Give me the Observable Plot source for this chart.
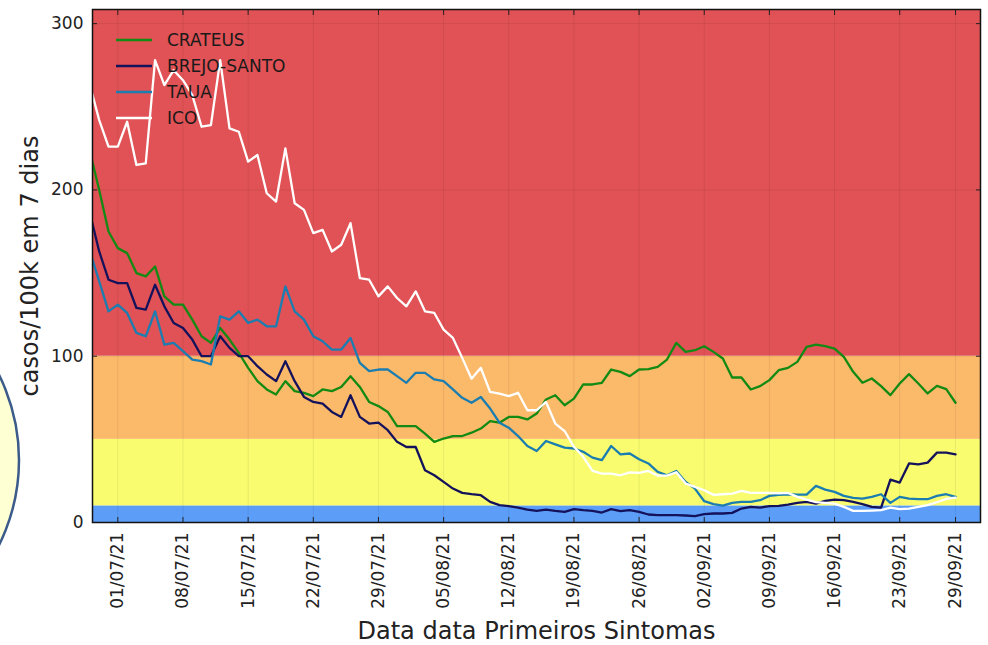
<!DOCTYPE html>
<html><head><meta charset="utf-8">
<script src="https://cdn.jsdelivr.net/npm/d3@7"></script>
<script src="https://cdn.jsdelivr.net/npm/@observablehq/plot@0.6"></script>
<style>
body{margin:0;background:#fff;}
#wrap{position:relative;width:988px;height:645px;overflow:hidden;font-family:"DejaVu Sans",sans-serif;}
#deco{position:absolute;left:0;top:0;pointer-events:none;}
</style></head><body>
<div id="wrap"><div id="chart"></div><svg id="deco" width="988" height="645"><circle cx="-172" cy="460" r="191" fill="#ffffd4" stroke="#3b5b8a" stroke-width="2.5"/></svg></div>
<script>
const startDay = "2021-06-28";
const seriesNames = ["CRATEUS", "BREJO-SANTO", "TAUA", "ICO"];
const seriesColors = ["#138a13", "#15125c", "#1b7db0", "#ffffff"];

const crateus = [223,200,175,165,162,150,148,154,136,131,131,122,112,108,117,110,102,93,85,80,77,85,79,78,76,80,79,81.5,88,81.5,72.5,70,66.5,58,58,58,53.5,48.5,50.5,52,52,54,56.5,61,60,63.5,63.5,62,65.5,74,76.5,70.5,74.5,83,83,84,92,90.6,88,92,92.2,93.6,98,108,102.6,103.6,106,102.6,98.6,87.2,87.2,80,82,85.6,91.6,93,96.6,105.6,107,106,104.6,99.6,90.6,84,86.6,82,76.6,83.6,89.2,83.6,77.6,82.2,80.2,72];
const brejoSanto = [186,163,146,144,144,129,128,143,130,120,117,110,100,100,112,105,100,100,94,89,85,97,85,75.5,72.5,71.5,66.5,63.5,76.5,63.5,59.5,60,55.5,48.5,45.4,45.4,31.4,28.4,24.4,20.4,17.8,17,16.4,12.4,10.4,9.8,9,7.8,7,7.8,7,6.4,8,7.4,7,6,8,6.8,7.4,6.4,4.8,4.4,4.4,4.4,4.2,3.8,5,5.4,5.4,5.8,8.4,9.4,9,9.8,10,10.8,11.8,12.4,11.4,13,13.8,13.4,12.4,11,9.4,9,25.8,24,35.5,35,36,42,42,41];
const taua = [163,145,127,131,126,114,112,127,107,108,103,98,97,95,124,122,127,120,122,118,118,142,127,122,112,109,104,104,111,96,91,92,92,88,84,90,90,86,85,80,75,72,75.5,68.5,60,57,52,46,43,49,47,45,44.5,42.5,39,37.5,46,41,41.5,38,35.5,30.4,28.4,31,24.4,20.4,12.8,11,10.2,11.8,12.4,12.4,13.4,16,16.6,17,16.8,16.8,22,19.8,18.4,16,14.8,14.4,15.4,17,11.8,15.4,14.4,14,14,16,17,15.4];
const ico = [263,242,226,226,241,215,216,278,263,272,266,257,238,239,278,237,235,217,221,198,193,225,192,188,174,176,163,167,180,147,146,136,142,135,130,139,127,126,116,111,99,86.5,93,78.5,77.5,76,78,67.5,67.5,72.5,59.5,55,45.5,39.5,31,29.4,29.4,28.4,30.2,29.8,31,28.2,28.2,30.2,23.4,21.4,19.4,16.6,17,17.4,19,17.8,17.8,17.8,17.6,17.8,15.4,13.8,12.2,11.8,11.4,9.4,7,7,7.2,7.4,9,8,8.4,9.4,10.4,12.2,14.2,15];

const tickLabels = ["2021-07-01","2021-07-08","2021-07-15","2021-07-22","2021-07-29","2021-08-05","2021-08-12","2021-08-19","2021-08-26","2021-09-02","2021-09-09","2021-09-16","2021-09-23","2021-09-29"];
const yTicks = [0, 100, 200, 300];
const bandLimits = [0, 10, 50, 100, 308.5];
const bandColors = ["#5c9df8", "#f8fc6e", "#fbb96a", "#e05255"];

const seriesValues = [crateus, brejoSanto, taua, ico];
const start = new Date(startDay);
const dates = crateus.map((_, i) => d3.utcDay.offset(start, i));
const rows = [];
seriesNames.forEach((name, k) => seriesValues[k].forEach((v, i) => rows.push({date: dates[i], value: v, name})));
const bands = bandColors.map((c, i) => ({lo: bandLimits[i], hi: bandLimits[i + 1], color: c}));
const tickDates = tickLabels.map(s => new Date(s));
const fmt = d3.utcFormat("%d/%m/%y");

const chart = Plot.plot({
  width: 988, height: 645,
  marginLeft: 92, marginRight: 8, marginTop: 9, marginBottom: 123,
  style: {fontFamily: "DejaVu Sans", fontSize: "17px", background: "transparent", color: "#222"},
  x: {type: "utc", domain: [new Date(Date.UTC(2021, 5, 28, 6, 42)), new Date(Date.UTC(2021, 9, 1, 16, 19))]},
  y: {domain: [0, bandLimits[bandLimits.length - 1]]},
  color: {domain: seriesNames, range: seriesColors},
  marks: [
    ...bands.map(b => Plot.rect([b], {y1: "lo", y2: "hi", fill: b.color})),
    Plot.gridX(tickDates, {stroke: "#000", strokeOpacity: 0.07}),
    Plot.gridY(yTicks, {stroke: "#000", strokeOpacity: 0.07}),
    Plot.line(rows, {x: "date", y: "value", z: "name", stroke: "name", strokeWidth: 2.3, clip: true}),
    Plot.axisX(tickDates, {tickFormat: fmt, tickRotate: -90, tickSize: 0, tickPadding: 10, label: null, fontSize: 17}),
    Plot.axisX(tickDates, {tickSize: -5, tickFormat: () => "", label: null}),
    Plot.axisX(tickDates, {anchor: "top", tickSize: -5, tickFormat: () => "", label: null}),
    Plot.axisY(yTicks, {tickSize: 0, tickPadding: 9, label: null, fontSize: 17}),
    Plot.axisY(yTicks, {tickSize: -5, tickFormat: () => "", label: null}),
    Plot.axisY(yTicks, {anchor: "right", tickSize: -5, tickFormat: () => "", label: null}),
    Plot.frame({stroke: "#111", strokeWidth: 1.5}),
    Plot.text(["casos/100k em 7 dias"], {text: d => d, frameAnchor: "left", textAnchor: "middle", lineAnchor: "middle", rotate: -90, dx: -62, fontSize: 24, fill: "#222"}),
    Plot.text(["Data data Primeiros Sintomas"], {text: d => d, frameAnchor: "bottom", textAnchor: "middle", lineAnchor: "middle", dy: 109, fontSize: 24, fill: "#222"})
  ]
});
document.getElementById("chart").appendChild(chart);

// legend (inside plot, top-left)
const svg = d3.select(chart);
const lg = svg.append("g").attr("font-family", "DejaVu Sans").attr("font-size", 17).attr("text-anchor", "start");
seriesNames.forEach((name, k) => {
  const y = 40 + k * 26;
  lg.append("line").attr("x1", 116).attr("x2", 152).attr("y1", y).attr("y2", y)
    .attr("stroke", seriesColors[k]).attr("stroke-width", 2.3);
  lg.append("text").attr("x", 167).attr("y", y).attr("dy", "0.35em").attr("text-anchor", "start").attr("fill", "#1a1a1a").text(name);
});
</script>
</body></html>
